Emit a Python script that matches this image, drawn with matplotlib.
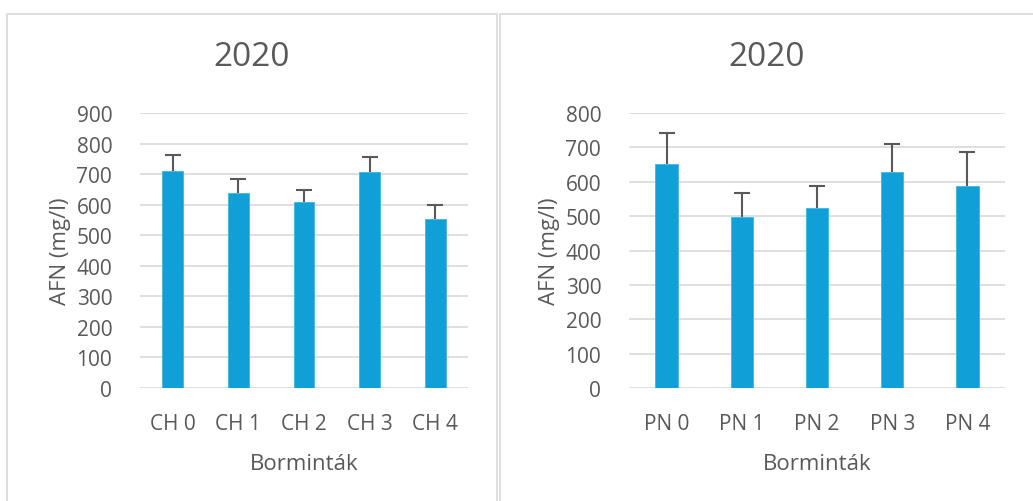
import matplotlib.pyplot as plt
from matplotlib.patches import Rectangle

# data
ch_labels = ['CH 0', 'CH 1', 'CH 2', 'CH 3', 'CH 4']
ch_values = [711, 637, 610, 707, 552]
ch_err = [52, 47, 38, 48, 48]

pn_labels = ['PN 0', 'PN 1', 'PN 2', 'PN 3', 'PN 4']
pn_values = [652, 497, 525, 627, 589]
pn_err = [91, 71, 63, 84, 99]

bar_color = '#109FD6'
text_color = '#595959'
grid_color = '#D9D9D9'

plt.rcParams['font.family'] = ['Open Sans', 'DejaVu Sans']

W, H = 1033, 502
fig = plt.figure(figsize=(W / 100, H / 100), dpi=100)


def px_rect(x0, y0, x1, y1):
    # pixel box (top-left origin) -> figure fraction [left, bottom, width, height]
    return [x0 / W, 1 - y1 / H, (x1 - x0) / W, (y1 - y0) / H]


# panel borders (right one runs off the image), title centred on each panel
for x0, x1, xb in [(7, 497, 497), (500, 1033, 1045)]:
    fig.patches.append(Rectangle((x0 / W, -0.1), (xb - x0) / W, 1.1 - 15 / H,
                                 transform=fig.transFigure, fill=False,
                                 edgecolor=grid_color, linewidth=1.2))
    fig.text((x0 + x1) / 2 / W, 1 - 58 / H, '2020', fontsize=24,
             color=text_color, ha='center', va='center')


def draw_panel(box, labels, values, err, ymax, width):
    ax = fig.add_axes(px_rect(*box))
    x = range(len(labels))
    ax.bar(x, values, width=width, color=bar_color, zorder=3,
           edgecolor='#3DB5E3', linewidth=0.6)
    # only the upper whisker is shown
    eb = ax.errorbar(x, values, yerr=[[0] * len(err), err], fmt='none',
                     ecolor=text_color, elinewidth=1.5, capsize=6, capthick=1.5, zorder=2.5)
    for cap in eb[1]:
        if list(cap.get_ydata()) == list(values):
            cap.set_visible(False)
    ax.set_ylim(0, ymax)
    ax.set_xlim(-0.5, len(labels) - 0.5)
    ax.set_yticks(range(0, ymax + 1, 100))
    ax.set_xticks(list(x))
    ax.set_xticklabels(labels)
    ax.yaxis.grid(True, color=grid_color, linewidth=1.2, zorder=0)
    ax.set_axisbelow(True)
    for s in ax.spines.values():
        s.set_visible(False)
    ax.tick_params(length=0, labelsize=15, colors=text_color)
    ax.tick_params(axis='y', pad=20)
    ax.tick_params(axis='x', pad=18)
    ax.set_xlabel('Borminták', fontsize=16, color=text_color, labelpad=14)
    ax.set_ylabel('AFN (mg/l)', fontsize=16, color=text_color, labelpad=4)
    return ax


draw_panel((140, 114, 468, 389), ch_labels, ch_values, ch_err, 900, 0.32)
draw_panel((629, 114, 1005, 389), pn_labels, pn_values, pn_err, 800, 0.3)

fig.savefig('out.png', dpi=100)
